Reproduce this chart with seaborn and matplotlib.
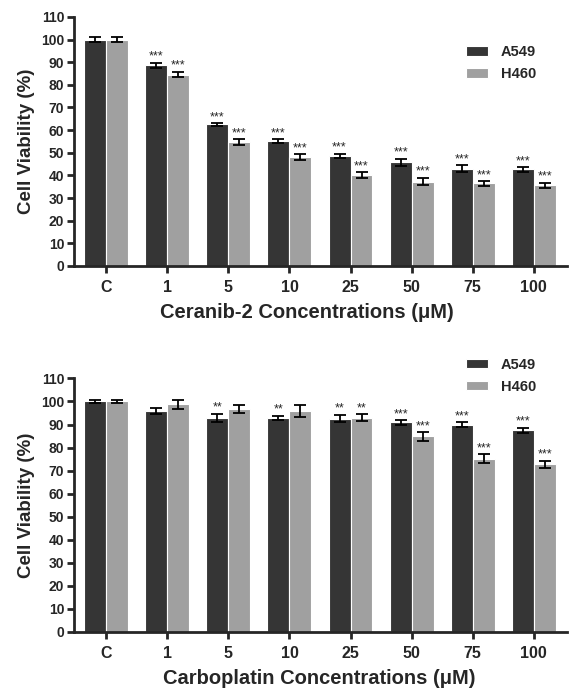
import matplotlib
matplotlib.use("Agg")
import matplotlib.pyplot as plt
import seaborn as sns
import pandas as pd

# data
concentrations = ["C", "1", "5", "10", "25", "50", "75", "100"]
cell_lines = ["A549", "H460"]

ceranib_a549 = [100, 88.6, 62.5, 55.2, 48.6, 45.8, 43.0, 42.7]
ceranib_a549_err = [1.2, 1.1, 0.6, 0.9, 1.0, 1.6, 1.5, 1.0]
ceranib_h460 = [100, 84.5, 54.6, 48.0, 40.2, 37.3, 36.5, 35.7]
ceranib_h460_err = [1.1, 1.2, 1.3, 1.4, 1.2, 1.6, 1.0, 1.1]
ceranib_a549_sig = ["", "***", "***", "***", "***", "***", "***", "***"]
ceranib_h460_sig = ["", "***", "***", "***", "***", "***", "***", "***"]

carbo_a549 = [100, 95.8, 92.8, 92.8, 92.6, 90.9, 89.9, 87.4]
carbo_a549_err = [0.8, 1.2, 1.8, 1.0, 1.7, 0.9, 1.0, 1.2]
carbo_h460 = [100, 98.8, 96.8, 95.8, 93.0, 84.8, 75.1, 72.8]
carbo_h460_err = [0.7, 2.0, 1.6, 2.7, 1.5, 1.9, 2.0, 1.5]
carbo_a549_sig = ["", "", "**", "**", "**", "***", "***", "***"]
carbo_h460_sig = ["", "", "", "", "**", "***", "***", "***"]

colors = {"A549": "#353535", "H460": "#a0a0a0"}


def draw_panel(ax, a549, a549_err, h460, h460_err, a549_sig, h460_sig, xlabel, leg_y, xlab_pos):
    df = pd.DataFrame({
        "conc": concentrations * 2,
        "line": ["A549"] * len(concentrations) + ["H460"] * len(concentrations),
        "value": a549 + h460,
    })
    sns.barplot(data=df, x="conc", y="value", hue="line", order=concentrations,
                hue_order=cell_lines, palette=colors, width=0.72, errorbar=None,
                edgecolor="white", linewidth=0.8, saturation=1, ax=ax)

    errs = [a549_err, h460_err]
    vals = [a549, h460]
    sigs = [a549_sig, h460_sig]
    bar_sets = list(ax.containers)
    for k, cont in enumerate(bar_sets):
        xs = [b.get_x() + b.get_width() / 2 for b in cont]
        ax.errorbar(xs, vals[k], yerr=errs[k], fmt="none", ecolor="black",
                    elinewidth=1.3, capsize=4, capthick=1.3, zorder=5)
        for x, v, e, s in zip(xs, vals[k], errs[k], sigs[k]):
            if s:
                ax.annotate(s, (x, v + e), xytext=(0, 0), textcoords="offset points",
                            ha="center", va="bottom", fontsize=9, fontweight="normal")

    ax.set_ylim(0, 110)
    ax.set_xlim(-0.53, 7.55)
    ax.set_yticks(range(0, 111, 10))
    ax.set_ylabel("Cell Viability (%)", fontsize=13.5, fontweight="bold", labelpad=4)
    ax.set_xlabel(xlabel, fontsize=14.5, fontweight="bold", labelpad=6)
    ax.xaxis.label.set_x(xlab_pos)
    ax.tick_params(axis="y", labelsize=10, width=2, length=5, pad=2)
    ax.tick_params(axis="x", labelsize=11.5, width=2, length=5, pad=5)
    for lab in ax.get_xticklabels() + ax.get_yticklabels():
        lab.set_fontweight("bold")
    sns.despine(ax=ax)
    for side in ["left", "bottom"]:
        ax.spines[side].set_linewidth(2)
    leg = ax.legend(loc="upper left", bbox_to_anchor=(0.783, leg_y), frameon=False,
                    fontsize=10.5, handlelength=1.5, handleheight=0.6,
                    handletextpad=0.9, labelspacing=0.55, borderaxespad=0)
    for t in leg.get_texts():
        t.set_fontweight("bold")


sns.set_style("ticks")
plt.rcParams["font.family"] = ["Liberation Sans", "DejaVu Sans"]

fig = plt.figure(figsize=(5.73, 6.9), dpi=100)
ax1 = fig.add_axes([0.129, 0.6145, 0.861, 0.361])
ax2 = fig.add_axes([0.129, 0.0845, 0.861, 0.367])

draw_panel(ax1, ceranib_a549, ceranib_a549_err, ceranib_h460, ceranib_h460_err,
           ceranib_a549_sig, ceranib_h460_sig, "Ceranib-2 Concentrations (\u03bcM)", 0.91, 0.473)
draw_panel(ax2, carbo_a549, carbo_a549_err, carbo_h460, carbo_h460_err,
           carbo_a549_sig, carbo_h460_sig, "Carboplatin Concentrations (\u03bcM)", 1.105, 0.497)

fig.savefig("out.png", dpi=100)
